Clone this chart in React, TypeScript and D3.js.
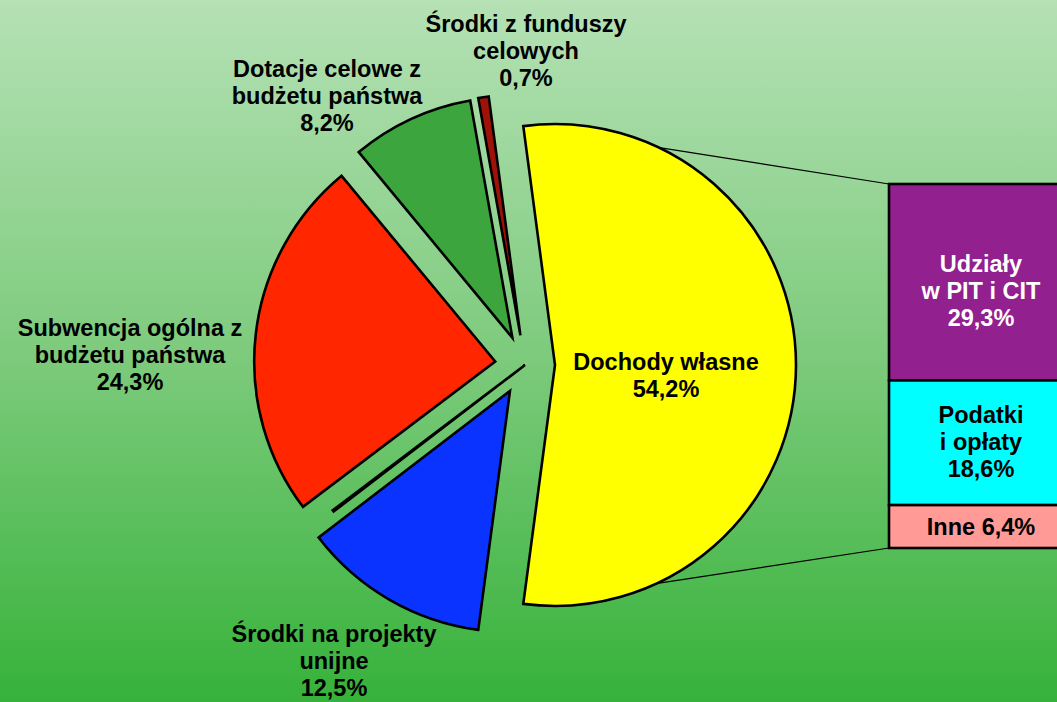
import React from 'react';
import * as d3 from 'd3';

const W = 1057;
const H = 702;

// main pie: own income is broken out into the bar on the right
const sliceNames = [
  'Dochody własne',
  'Środki na projekty unijne',
  'Pozostałe',
  'Subwencja ogólna z budżetu państwa',
  'Dotacje celowe z budżetu państwa',
  'Środki z funduszy celowych',
];
const sliceValues = [54.2, 12.5, 0.1, 24.3, 8.2, 0.7];
const sliceLabels = [
  ['Dochody własne'],
  ['Środki na projekty', 'unijne'],
  [],
  ['Subwencja ogólna z', 'budżetu państwa'],
  ['Dotacje celowe z', 'budżetu państwa'],
  ['Środki z funduszy', 'celowych'],
];

// breakdown of "Dochody własne"
const barNames = ['Udziały w PIT i CIT', 'Podatki i opłaty', 'Inne'];
const barValues = [29.3, 18.6, 6.4];
const barLabels = [['Udziały', 'w PIT i CIT'], ['Podatki', 'i opłaty'], ['Inne']];

// styles
const sliceColors = ['#ffff00', '#0a33ff', '#999999', '#ff2600', '#3da53d', '#9e1208'];
const sliceExplode = [30, 30, 0, 30, 30, 30];
const barColors = ['#93208f', '#00ffff', '#ff9a96'];
const barTextColors = ['#ffffff', '#000000', '#000000'];
const barInline = [false, false, true];
// label anchors: [center x, first baseline]
const sliceLabelPos = [
  [666, 370],
  [334, 642],
  [0, 0],
  [130, 336],
  [327, 77],
  [526, 32],
];
const barLabelX = 981;
const barLabelY = [272, 423, 535];

const fmt = (v: number) => v.toFixed(1).replace('.', ',') + '%';
const FONT = '"Liberation Sans", Arial, sans-serif';
const LINE = 26.8;

export default function App() {
  const cx = 525;
  const cy = 365;
  const r = 241;

  const total = d3.sum(sliceValues);
  const mainShare = sliceValues[0] / total;
  const start = Math.PI / 2 - mainShare * Math.PI;

  const pie = d3
    .pie<number>()
    .sort(null)
    .value((d) => d)
    .startAngle(start)
    .endAngle(start + 2 * Math.PI);
  const arcs = pie(sliceValues);
  const arc = d3.arc<d3.PieArcDatum<number>>().innerRadius(0).outerRadius(r);

  const offset = (a: d3.PieArcDatum<number>, i: number) => {
    const mid = (a.startAngle + a.endAngle) / 2;
    return [Math.sin(mid) * sliceExplode[i], -Math.cos(mid) * sliceExplode[i]];
  };

  // bar of pie
  const barX = 889;
  const barW = 184;
  const barTotal = d3.sum(barValues);
  const y = d3.scaleLinear().domain([0, barTotal]).range([184, 548]);
  const stackStart = barValues.map((_, i) => d3.sum(barValues.slice(0, i)));

  // connectors from the exploded main slice edges to the bar
  const [mx, my] = offset(arcs[0], 0);
  const p0 = [cx + mx + r * Math.sin(arcs[0].startAngle), cy + my - r * Math.cos(arcs[0].startAngle)];
  const p1 = [cx + mx + r * Math.sin(arcs[0].endAngle), cy + my - r * Math.cos(arcs[0].endAngle)];

  return (
    <div style={{ position: 'absolute', left: 0, top: 0 }}>
      <svg width={W} height={H} style={{ display: 'block' }}>
        <defs>
          <linearGradient id="bg" x1="0" y1="0" x2="0" y2="1">
            <stop offset="0%" stopColor="#b5e1b5" />
            <stop offset="50%" stopColor="#7ecb7d" />
            <stop offset="100%" stopColor="#36b23a" />
          </linearGradient>
        </defs>
        <rect width={W} height={H} fill="url(#bg)" />

        <line x1={p0[0]} y1={p0[1]} x2={barX} y2={y(0)} stroke="#000" strokeWidth={1.2} />
        <line x1={p1[0]} y1={p1[1]} x2={barX} y2={y(barTotal)} stroke="#000" strokeWidth={1.2} />

        {arcs.map((a, i) => {
          const [dx, dy] = offset(a, i);
          return (
            <path
              key={sliceNames[i]}
              d={arc(a) || ''}
              transform={`translate(${cx + dx},${cy + dy})`}
              fill={sliceColors[i]}
              stroke="#000"
              strokeWidth={2.6}
              strokeLinejoin="miter"
            />
          );
        })}

        {barValues.map((v, i) => (
          <rect
            key={barNames[i]}
            x={barX}
            y={y(stackStart[i])}
            width={barW}
            height={y(stackStart[i] + v) - y(stackStart[i])}
            fill={barColors[i]}
            stroke="#000"
            strokeWidth={2.6}
          />
        ))}

        <g fontFamily={FONT} fontWeight="bold" fontSize={23.5} textAnchor="middle">
          {sliceLabels.map((lines, i) => {
            if (!lines.length) return null;
            const all = [...lines, fmt(sliceValues[i])];
            const [lx, ly] = sliceLabelPos[i];
            return (
              <text key={sliceNames[i]} x={lx} y={ly} fill="#000">
                {all.map((t, j) => (
                  <tspan key={j} x={lx} y={ly + j * LINE}>
                    {t}
                  </tspan>
                ))}
              </text>
            );
          })}
          {barLabels.map((lines, i) => {
            const all = barInline[i]
              ? [lines.join(' ') + ' ' + fmt(barValues[i])]
              : [...lines, fmt(barValues[i])];
            return (
              <text key={barNames[i]} x={barLabelX} y={barLabelY[i]} fill={barTextColors[i]}>
                {all.map((t, j) => (
                  <tspan key={j} x={barLabelX} y={barLabelY[i] + j * LINE}>
                    {t}
                  </tspan>
                ))}
              </text>
            );
          })}
        </g>
      </svg>
    </div>
  );
}
